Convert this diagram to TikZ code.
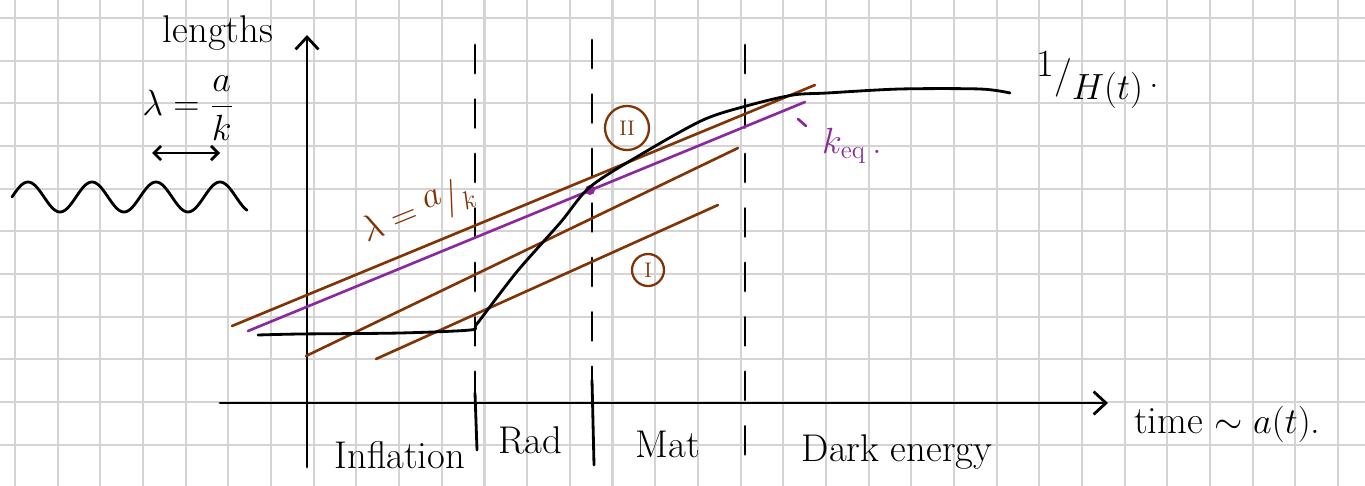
\documentclass[tikz,border=0pt]{standalone}
\usepackage{amsmath, amssymb}
\usepackage{xcolor}
\usetikzlibrary{arrows.meta}
\definecolor{brownline}{RGB}{128,52,6}
\definecolor{purpleline}{RGB}{138,40,158}
\definecolor{gridgray}{RGB}{212,212,212}

\begin{document}
\begin{tikzpicture}[x=0.02cm, y=-0.02cm, line cap=round, line join=round,
    ink/.style={black, line width=1.6pt},
    brownink/.style={brownline, line width=1.5pt},
    purpleink/.style={purpleline, line width=1.5pt},
    phase/.style={ink, dash pattern=on 16pt off 15pt},
    hand/.style={font=\fontsize{22}{26}\selectfont},
    barb/.style={-{Straight Barb[length=7pt,width=13pt]}},
    roman/.style={circle, draw=brownline, line width=1.3pt, text=brownline, inner sep=0pt}]
  \useasboundingbox (0,0) rectangle (1365,486);
  \fill[white] (0,0) rectangle (1365,486);

  % squared paper
  \def\cell{42.68}
  \foreach \i in {0,...,31} {
    \pgfmathsetmacro{\xg}{15+\i*\cell}
    \draw[gridgray, line width=1.2pt] (\xg,0) -- (\xg,486);
  }
  \foreach \j in {0,...,11} {
    \pgfmathsetmacro{\yg}{18+\j*\cell}
    \draw[gridgray, line width=1.2pt] (0,\yg) -- (1365,\yg);
  }

  % axes
  \coordinate (yfoot) at (307,467);
  \coordinate (ytip) at (307,35);
  \coordinate (xfoot) at (220,403);
  \coordinate (xtip) at (1108,403);
  \draw[ink, barb] (yfoot) -- (ytip);
  \draw[ink, barb] (xfoot) -- (xtip);
  \node[hand] (lengths) at (218,33) {lengths};
  \node[hand, anchor=west] (timelabel) at (1128,424) {time $\sim a(t)$.};

  % era boundaries
  \foreach \xe/\ytop/\ybot in {475/45/395, 592/40/380, 745/45/465}
    \draw[phase] (\xe,\ytop) -- (\xe,\ybot);
  \draw[ink] (475,393) -- (477,450);
  \draw[ink] (592,380) -- (594,465);
  \node[hand] (infl) at (400,455) {Inflation};
  \node[hand] (rad) at (530,440) {Rad};
  \node[hand] (mat) at (668,444) {Mat};
  \node[hand] (dark) at (897,452) {Dark energy};

  % comoving modes
  \coordinate (bA) at (232,326); \coordinate (bB) at (815,85);
  \coordinate (cA) at (306,356); \coordinate (cB) at (738,148);
  \coordinate (dA) at (376,359); \coordinate (dB) at (718,205);
  \coordinate (pA) at (248,331); \coordinate (pB) at (805,102);
  \draw[brownink] (bA) -- (bB);
  \draw[brownink] (cA) -- (cB);
  \draw[brownink] (dA) -- (dB);
  \draw[purpleink] (pA) -- (pB);
  \fill[purpleline] (590,190) circle (5);
  \node[hand, text=brownline, rotate=22, inner sep=1pt] (lam) at (418,212)
    {$\lambda = \raisebox{5pt}{$a$}/\raisebox{-4pt}{$\scriptstyle k$}$};
  \node[roman, minimum size=0.88cm] (two) at (627,128) {\large II};
  \node[roman, minimum size=0.64cm] (one) at (648,270) {\large I};
  \draw[purpleink] (798,119) -- (806,126);
  \node[hand, text=purpleline] (keq) at (852,146) {$k_{\mathrm{eq}}$\,.};

  % Hubble radius
  \draw[ink] plot[smooth, tension=0.5] coordinates {(258,335) (300,334) (400,333) (470,330)
    (476,325) (495,300) (520,268) (560,223) (590,187) (640,155) (703,120) (750,105)
    (793,95) (827,93) (900,89) (980,89) (1010,93)};
  \node[hand, anchor=west, inner sep=0pt] (hubble) at (1036,80)
    {\raisebox{6pt}{1}/\raisebox{-7pt}{$H(t)$}\,.};

  % wave
  \node[hand] (lamdef) at (188,108) {$\lambda = \dfrac{a}{k}$};
  \coordinate (wl) at (152,153);
  \coordinate (wr) at (220,153);
  \draw[ink, {Straight Barb[length=4pt,width=8pt]}-{Straight Barb[length=4pt,width=8pt]}] (wl) -- (wr);
  \draw[ink, domain=12:247, samples=120, smooth] plot (\x, {197-15*cos(5.625*(\x-28))});
\end{tikzpicture}
\end{document}
